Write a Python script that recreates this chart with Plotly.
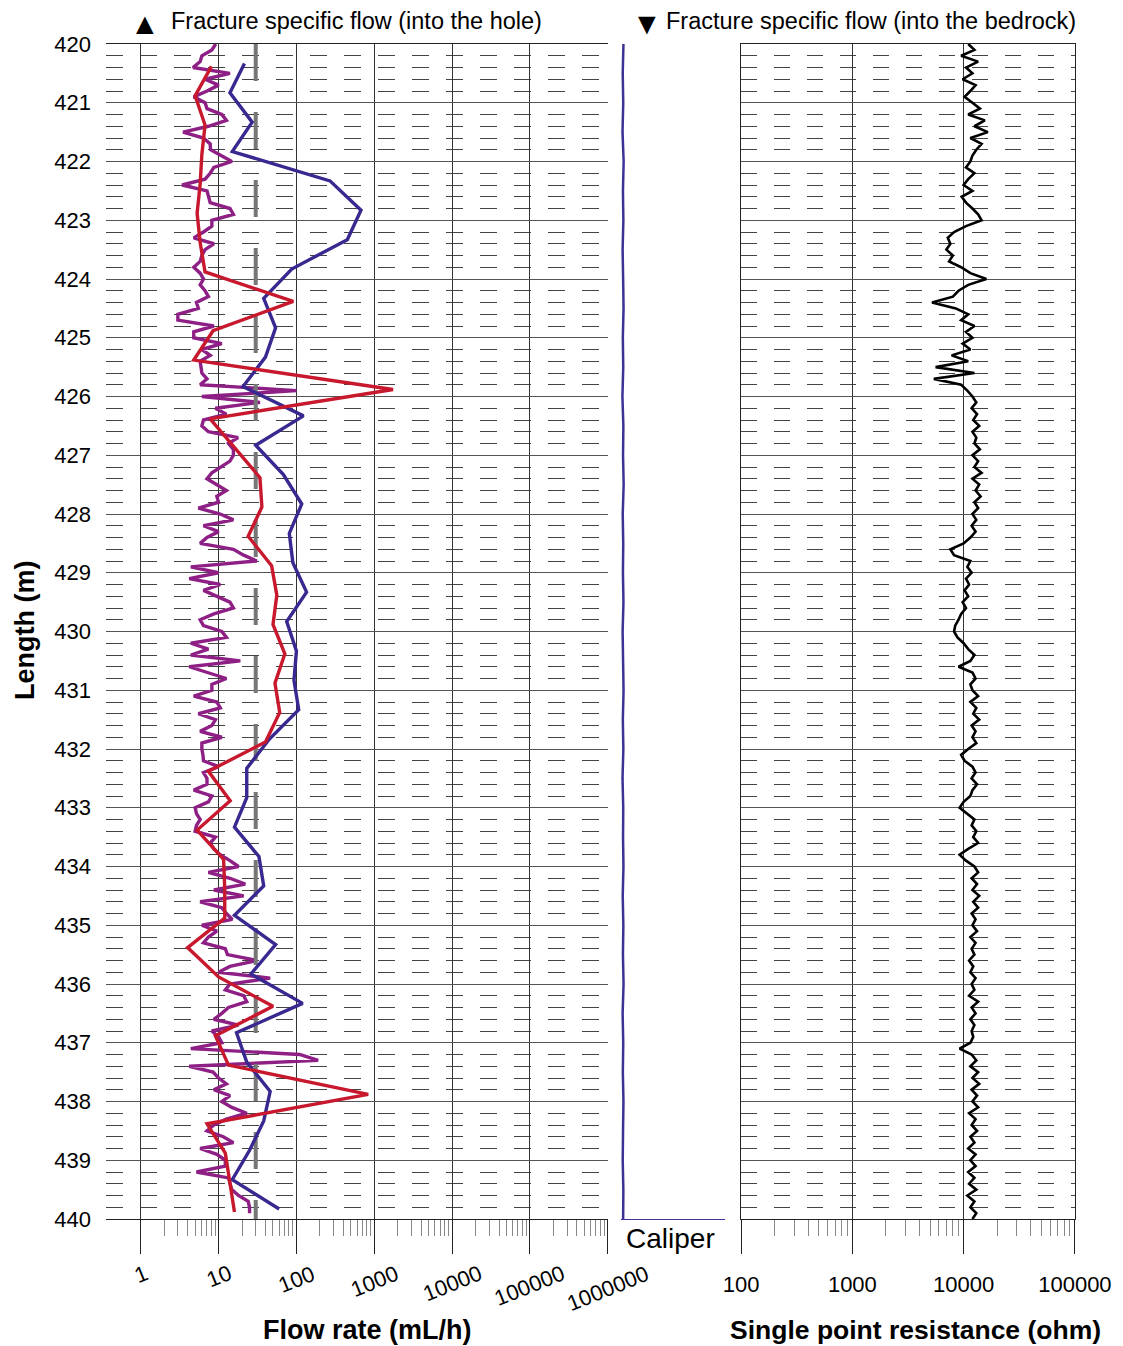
import numpy as np
import plotly.graph_objects as go

# ---- data ----
# flow, 0.5 m steps (blue and red), 0.1 m steps (purple), mL/h
blue_flow = [21.5, 14, 27, 15, 270, 675, 450, 87, 38, 54,
             40, 20.6, 123, 30, 68, 117, 81, 90, 135, 75,
             100, 93, 107, 45, 23, 23, 16, 33, 38, 16,
             54, 26, 120, 17, 23, 46, 38, 25, 15, 60]
red_flow = [8.1, 5.0, 6.7, 6.1, 5.8, 5.3, 5.8, 6.7, 91, 8.5,
            4.8, 1740, 7.8, 16.3, 34, 36, 24, 48, 56, 50,
            71, 53, 61, 40, 7.4, 14.1, 5.3, 11.6, 12, 12,
            4.0, 10, 50, 9.1, 13.4, 835, 7.1, 12.2, 14, 16]
purple_flow = [9.2, 8.2, 6.1, 5.8, 4.7, 14, 6.7, 10, 7.1, 4.8,
               6.7, 7.1, 11, 12.6, 7.4, 3.5, 6.4, 7.8, 7.9, 11,
               14.8, 8.7, 7.8, 6.7, 3.4, 7.1, 7.4, 7.8, 14, 15.5,
               8.2, 8.2, 6.4, 4.8, 8.7, 6.7, 6.1, 5.8, 4.8, 5.8,
               6.4, 5.8, 6.7, 7.4, 5.2, 5.5, 3.0, 3.0, 8.7, 4.8,
               4.8, 11, 6.1, 7.8, 5.8, 5.9, 6.1, 7.1, 5.8, 100,
               6.1, 34, 9.1, 12.6, 6.4, 6.1, 7.4, 17.8, 13.4, 15.5,
               15.5, 14, 10.5, 8.2, 7.1, 9.5, 12.6, 9.5, 10, 5.5,
               10.5, 15.5, 6.4, 10, 7.1, 5.8, 15.5, 21, 31, 4.4,
               10, 4.2, 10.5, 6.4, 9.5, 14, 15.5, 8.7, 5.8, 6.4,
               11, 12.6, 4.4, 7.4, 4.4, 19, 4.2, 7.4, 12.6, 8.2,
               8.2, 4.8, 9.5, 10.5, 5.5, 9.1, 8.2, 5.8, 11, 6.1,
               6.1, 6.3, 6.4, 10, 6.4, 7.1, 7.1, 4.8, 8.2, 7.4,
               5.0, 5.2, 5.8, 5.2, 5.0, 9.1, 7.8, 8.7, 10.5, 14,
               18, 7.4, 14, 22, 8.7, 21, 5.8, 11, 12.6, 15,
               6.1, 9.5, 7.4, 6.4, 12.2, 13, 31, 14, 10, 46,
               14, 12.2, 21, 23, 13.4, 11, 8.7, 18, 8.2, 10,
               11, 4.4, 110, 190, 4.2, 8.5, 10, 12.6, 8.7, 14,
               11, 14.8, 23, 12.6, 8.7, 7.1, 11.5, 15.5, 5.8, 9.5,
               12.2, 12.2, 5.2, 13.4, 14, 14.8, 18, 24, 25, 25]
limit_depth = [420, 440]
limit_flow = [30, 30]

# single point resistance, 0.1 m steps, ohm
resistance = [11000, 12500, 9500, 13500, 10500, 12000, 9800, 12800, 11500, 10200,
              12000, 14000, 11000, 15500, 12500, 16500, 11500, 14500, 13000, 12000,
              11500, 10500, 12500, 11000, 10000, 12000, 9600, 10500, 12000, 13500,
              14500, 10500, 8200, 7200, 7600, 7000, 8000, 7400, 9500, 11500,
              16000, 11000, 9000, 8000, 5200, 8500, 11000, 9500, 12500, 10500,
              12000, 9800, 11500, 7800, 11000, 5600, 12500, 5400, 9500, 10800,
              12000, 13000, 11800, 13200, 12200, 13800, 12000, 13000, 12500, 14000,
              12000, 13500, 12500, 14500, 12000, 13800, 12800, 14200, 12500, 13500,
              12000, 13000, 11800, 12800, 11500, 10000, 7600, 8200, 11500, 10800,
              11800, 10500, 11200, 10200, 11000, 9800, 10500, 9500, 9000, 8400,
              8200, 8800, 10000, 11000, 12500, 11500, 9000, 12000, 12800, 11500,
              12000, 13500, 11500, 13000, 12200, 13800, 11800, 12800, 12000, 13000,
              11000, 9500, 10200, 12000, 12800, 11800, 13200, 12000, 11500, 10000,
              9200, 10800, 12500, 11800, 13000, 12200, 13500, 11000, 9200, 10500,
              12500, 13500, 11800, 13200, 12000, 13800, 12200, 13500, 11800, 12800,
              12000, 13200, 11500, 12800, 11800, 12500, 11200, 12200, 11500, 12800,
              11800, 12500, 11200, 13500, 11800, 12800, 11500, 12500, 11800, 12200,
              11500, 9200, 11800, 13000, 11500, 13500, 12000, 13800, 11800, 13200,
              12000, 13500, 11200, 12800, 11800, 13200, 11500, 12500, 11000, 12800,
              11500, 12800, 11000, 12500, 11200, 13000, 10800, 12500, 11500, 13000,
              12000]

# caliper, 0.5 m steps
caliper = [76.004, 75.997, 76.002, 75.995, 76.006, 75.999, 76.003, 75.996, 76.001, 76.005,
           75.998, 76.002, 75.994, 76.003, 76.0, 76.006, 75.997, 76.002, 75.999, 76.004,
           75.996, 76.001, 76.005, 75.998, 76.003, 75.995, 76.002, 76.0, 76.004, 75.997,
           76.003, 75.999, 76.005, 75.996, 76.002, 75.998, 76.004, 76.0, 75.997, 76.003,
           76.001]

flow_ticks = [1, 10, 100, 1000, 10000, 100000, 1000000]
flow_tick_labels = ["1", "10", "100", "1000", "10000", "100000", "1000000"]
res_ticks = [100, 1000, 10000, 100000]
res_tick_labels = ["100", "1000", "10000", "100000"]

# depth of each sample (m)
blue_depth = 420.33 + 0.5 * np.arange(len(blue_flow))
red_depth = 420.38 + 0.5 * np.arange(len(red_flow))
purple_depth = 420.0 + 0.1 * np.arange(len(purple_flow))
res_depth = 420.0 + 0.1 * np.arange(len(resistance))
cal_depth = 420.0 + 0.5 * np.arange(len(caliper))

# minor ticks 2..9 inside each full decade
flow_minor = [m * 10 ** k for k in range(0, 6) for m in range(2, 10)]
res_minor = [m * 10 ** k for k in range(2, 5) for m in range(2, 10)]

# page body has an 8px margin, so place everything 8px up/left
OFF = 8
W, H = 1123 - OFF, 1346 - OFF
FONT = "Liberation Sans, Arial, sans-serif"


def px_x(p):
    return (p - OFF) / W


def px_y(p):
    return 1 - (p - OFF) / H


fig = go.Figure()

fig.add_trace(go.Scatter(x=purple_flow, y=purple_depth, mode="lines",
                         line=dict(color="#8d1f85", width=3.4), xaxis="x", yaxis="y"))
fig.add_trace(go.Scatter(x=limit_flow, y=limit_depth, mode="lines",
                         line=dict(color="#777777", width=4, dash="37px,31px"),
                         xaxis="x", yaxis="y"))
fig.add_trace(go.Scatter(x=blue_flow, y=blue_depth, mode="lines",
                         line=dict(color="#38288f", width=3.4), xaxis="x", yaxis="y"))
fig.add_trace(go.Scatter(x=red_flow, y=red_depth, mode="lines",
                         line=dict(color="#c8182e", width=3.4), xaxis="x", yaxis="y"))
fig.add_trace(go.Scatter(x=caliper, y=cal_depth, mode="lines",
                         line=dict(color="#3c3296", width=2.5), xaxis="x2", yaxis="y2"))
fig.add_trace(go.Scatter(x=resistance, y=res_depth, mode="lines",
                         line=dict(color="black", width=2.6), xaxis="x3", yaxis="y3"))

ydom = [px_y(1219), px_y(44)]


def minor_log(vals):
    return dict(ticks="outside", ticklen=16, tickcolor="#888888", tickwidth=1,
                tickmode="array", tickvals=vals, showgrid=False)


fig.update_layout(
    width=W, height=H, showlegend=False,
    margin=dict(l=0, r=0, t=0, b=0),
    paper_bgcolor="white", plot_bgcolor="white",
    font=dict(family=FONT, size=22, color="black"),
    xaxis=dict(type="log", domain=[px_x(106), px_x(608)], range=[-0.446, 6.002],
               anchor="y", tickvals=flow_ticks, showticklabels=False, automargin=False,
               ticks="outside", ticklen=34, tickcolor="#222222", tickwidth=1,
               showgrid=True, gridcolor="#333333", gridwidth=1,
               minor=minor_log(flow_minor), showline=True, mirror=True,
               linecolor="#222222", linewidth=1, zeroline=False),
    yaxis=dict(domain=ydom, range=[440, 420], anchor="x", dtick=1, tick0=420,
               ticks="", ticklabelstandoff=14, tickfont=dict(size=22),
               automargin=False,
               showgrid=True, gridcolor="#555555", gridwidth=1, zeroline=False,
               minor=dict(dtick=0.2, tick0=420, showgrid=True, gridcolor="#444444",
                          gridwidth=1, griddash="17px,17px")),
    xaxis2=dict(domain=[px_x(621), px_x(725)], range=[75.98, 77.0], anchor="y2",
                showgrid=False, showticklabels=False, ticks="", zeroline=False,
                automargin=False,
                showline=True, linecolor="#3c3296", linewidth=1),
    yaxis2=dict(domain=ydom, matches="y", anchor="x2", showgrid=False,
                automargin=False,
                showticklabels=False, ticks="", zeroline=False, showline=False),
    xaxis3=dict(type="log", domain=[px_x(741), px_x(1075)], range=[1.999, 5.001],
                anchor="y3", tickvals=res_ticks, ticktext=res_tick_labels,
                ticks="outside", ticklen=34, automargin=False,
                tickcolor="#222222", tickwidth=1, tickfont=dict(size=22),
                ticklabelstandoff=12,
                showgrid=True, gridcolor="#333333", gridwidth=1,
                minor=minor_log(res_minor), showline=True, mirror=True,
                linecolor="#222222", linewidth=1, zeroline=False),
    yaxis3=dict(domain=ydom, matches="y", anchor="x3", dtick=1, tick0=420,
                showticklabels=False, ticks="", zeroline=False, automargin=False,
                showline=True, mirror=True, linecolor="#222222", linewidth=1,
                showgrid=True, gridcolor="#555555", gridwidth=1,
                minor=dict(dtick=0.2, tick0=420, showgrid=True, gridcolor="#444444",
                           gridwidth=1, griddash="16px,17px")),
)

ann = []
for v, lab in zip(flow_ticks, flow_tick_labels):
    ann.append(dict(x=np.log10(v), xref="x", y=px_y(1258), yref="paper",
                    text=lab, showarrow=False, textangle=-22,
                    xanchor="center", yanchor="top", font=dict(size=22)))


def paper_text(x, y, text, size, xanchor="left", angle=0):
    return dict(x=px_x(x), y=px_y(y), xref="paper", yref="paper", xanchor=xanchor,
                yanchor="middle", showarrow=False, font=dict(size=size),
                textangle=angle, text=text)


ann += [
    paper_text(128, 23, "▲", 30),
    paper_text(169, 21, "Fracture specific flow (into the hole)", 23.5),
    paper_text(630, 23, "▼", 30),
    paper_text(664, 21, "Fracture specific flow (into the bedrock)", 23.5),
    paper_text(624, 1238, "Caliper", 28),
    paper_text(367, 1330, "<b>Flow rate (mL/h)</b>", 27, xanchor="center"),
    paper_text(915, 1330, "<b>Single point resistance (ohm)</b>", 26.5, xanchor="center"),
    paper_text(25, 631, "<b>Length (m)</b>", 27, xanchor="center", angle=-90),
]
fig.update_layout(annotations=ann)

fig.write_html("out.html")
